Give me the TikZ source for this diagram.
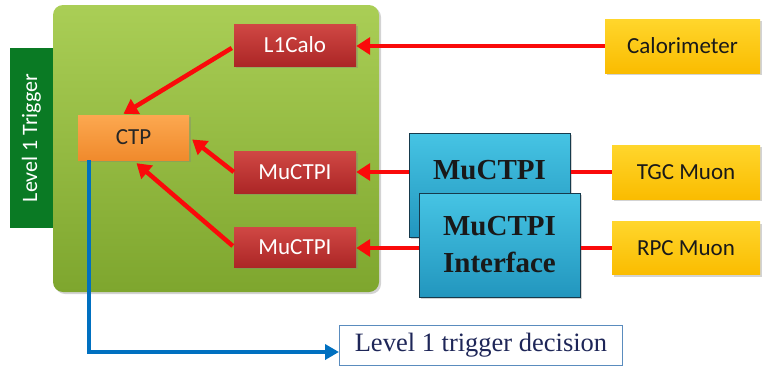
\documentclass[tikz,border=0pt]{standalone}
\usepackage{fontspec}
\setmainfont{Carlito}
\newfontfamily\serifface{Liberation Serif}
\usetikzlibrary{arrows.meta,shadows,calc}
\definecolor{greenTop}{RGB}{170,206,86}
\definecolor{greenBot}{RGB}{126,166,46}
\definecolor{tabgreen}{RGB}{10,122,36}
\definecolor{redTop}{RGB}{208,72,68}
\definecolor{redBot}{RGB}{172,38,38}
\definecolor{orTop}{RGB}{252,168,80}
\definecolor{orBot}{RGB}{240,138,44}
\definecolor{blTop}{RGB}{70,196,228}
\definecolor{blBot}{RGB}{34,150,190}
\definecolor{blBorder}{RGB}{22,58,76}
\definecolor{yeTop}{RGB}{255,214,44}
\definecolor{yeBot}{RGB}{250,188,0}
\definecolor{arrowred}{RGB}{250,10,10}
\definecolor{lineblue}{RGB}{0,112,192}
\definecolor{decborder}{RGB}{90,140,190}
\definecolor{dectext}{RGB}{30,38,88}
\begin{document}
\begin{tikzpicture}[x=1pt,y=-1pt,
  lbl/.style={font=\fontsize{23}{27}\selectfont, inner sep=0pt},
  shad/.style={drop shadow={opacity=0.35, shadow xshift=2pt, shadow yshift=-2pt}},
  redbox/.style={lbl, shad, top color=redTop, bottom color=redBot, text=white, minimum width=122pt},
  ctpbox/.style={lbl, shad, top color=orTop, bottom color=orBot, text=black!85, minimum width=111pt, minimum height=45pt},
  yebox/.style={lbl, shad, top color=yeTop, bottom color=yeBot, text=black!90, minimum width=148pt, minimum height=54pt},
  blbox/.style={shad, top color=blTop, bottom color=blBot, draw=blBorder, line width=1pt, minimum width=161pt, minimum height=104pt, inner sep=0pt,
    font=\serifface\bfseries\fontsize{29}{37}\selectfont, align=center, text=black!90},
  redarrow/.style={draw=arrowred, line width=4.5pt, -{Triangle[length=14pt,width=17pt]}},
  redline/.style={draw=arrowred, line width=4.5pt},
]
\useasboundingbox (0,0) rectangle (768,367);

% Level 1 Trigger tab and main green box
\node[fill=tabgreen, minimum width=43pt, minimum height=180pt, inner sep=0pt] (tab) at (31.5,138) {};
\node[font=\fontsize{22}{26}\selectfont, inner sep=0pt, rotate=90, text=white] (tabtxt) at (tab.center) {Level 1 Trigger};
\node[shad, top color=greenTop, bottom color=greenBot, rounded corners=10pt, minimum width=326pt, minimum height=287pt, inner sep=0pt] (main) at (216,148.5) {};

% inner boxes
\node[redbox, minimum height=42pt] (l1calo) at (295,45) {L1Calo};
\node[ctpbox] (ctp) at (133.5,137.5) {CTP};
\node[redbox, minimum height=42pt] (mucA) at (295,172) {MuCTPI};
\node[redbox, minimum height=40pt] (mucB) at (295,247) {MuCTPI};

% blue boxes
\node[blbox] (blA) at (489.5,185) {};
\node[font=\serifface\bfseries\fontsize{29}{37}\selectfont, text=black!90, inner sep=0pt] (blAtxt) at (489.5,170) {MuCTPI};
\node[blbox] (blB) at (499.5,245) {MuCTPI\\Interface};

% detector boxes
\node[yebox, minimum width=155pt] (cal) at (682.5,46) {Calorimeter};
\node[yebox] (tgc) at (686,172) {TGC Muon};
\node[yebox, minimum height=53pt] (rpc) at (686,248) {RPC Muon};

% decision box
\node[draw=decborder, line width=1pt, fill=white, minimum width=283pt, minimum height=40pt, inner sep=0pt,
  font=\serifface\fontsize{26.5}{30}\selectfont, text=dectext] (dec) at (481,345) {Level 1 trigger decision};

% connectors
\draw[redarrow] (cal.west) -- (cal.west -| l1calo.east);
\draw[redline] (tgc.west) -- (tgc.west -| blA.east);
\draw[redarrow] (tgc.west -| blA.west) -- (mucA.east);
\draw[redline] (rpc.west) -- (rpc.west -| blB.east);
\draw[redarrow] (rpc.west -| blB.west) -- (rpc.west -| mucB.east);

\draw[redarrow] ($(l1calo.west)+(-2,3)$) -- ($(ctp.north)+(-10,-1)$);
\draw[redarrow] (mucA.west) -- ($(ctp.east)+(3,2)$);
\draw[redarrow] ($(mucB.west)+(-1,-1)$) -- ($(ctp.south)+(3,3)$);

\coordinate (ctpout) at ($(ctp.south west)+(11,0)$);
\draw[draw=lineblue, line width=4pt, -{Triangle[length=14pt,width=15pt]}] (ctpout) |- ($(dec.west)+(0,7)$);
\end{tikzpicture}
\end{document}
